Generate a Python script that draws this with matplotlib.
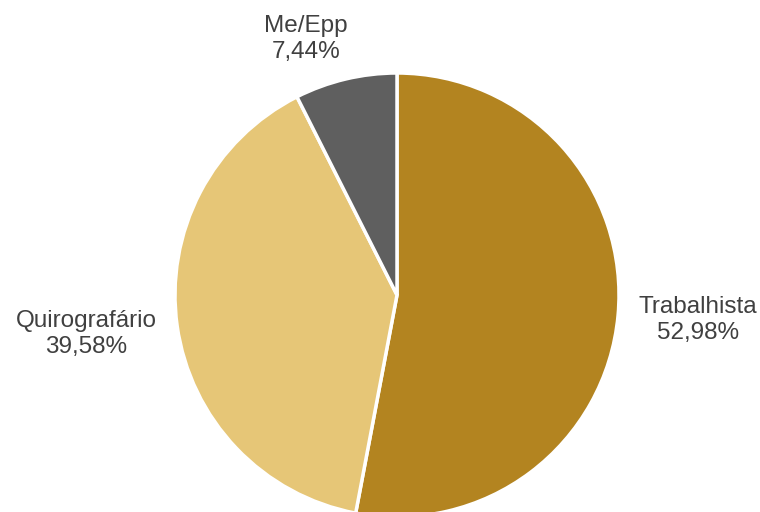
import matplotlib
matplotlib.use("Agg")
import matplotlib.pyplot as plt

categories = ["Trabalhista", "Quirografário", "Me/Epp"]
values = [52.98, 39.58, 7.44]
colors = ["#B38420", "#E6C677", "#5F5F5F"]

plt.rcParams['font.family'] = ['Liberation Sans', 'DejaVu Sans']

fig = plt.figure(figsize=(7.6, 5.12), dpi=100)
cx, cy, r = 397, 295, 222
W, H = 760, 512
ax = fig.add_axes([(cx - r) / W, (H - cy - r) / H, 2 * r / W, 2 * r / H])
ax.pie(values, colors=colors, startangle=90, counterclock=False,
       wedgeprops=dict(edgecolor="white", linewidth=2.5))
ax.set_xlim(-1, 1)
ax.set_ylim(-1, 1)
ax.set_aspect("equal")
ax.axis("off")

# label positions in pixels (style)
label_px = [(698, 320), (86, 334), (306, 39)]
for cat, v, (px, py) in zip(categories, values, label_px):
    tx = (px - cx) / r
    ty = (cy - py) / r
    ax.text(tx, ty, f"{cat}\n{v:.2f}%".replace(".", ","), ha="center", va="center",
            fontsize=17.5, color="#404040", linespacing=1.22, clip_on=False)

fig.savefig("out.png", dpi=100)
